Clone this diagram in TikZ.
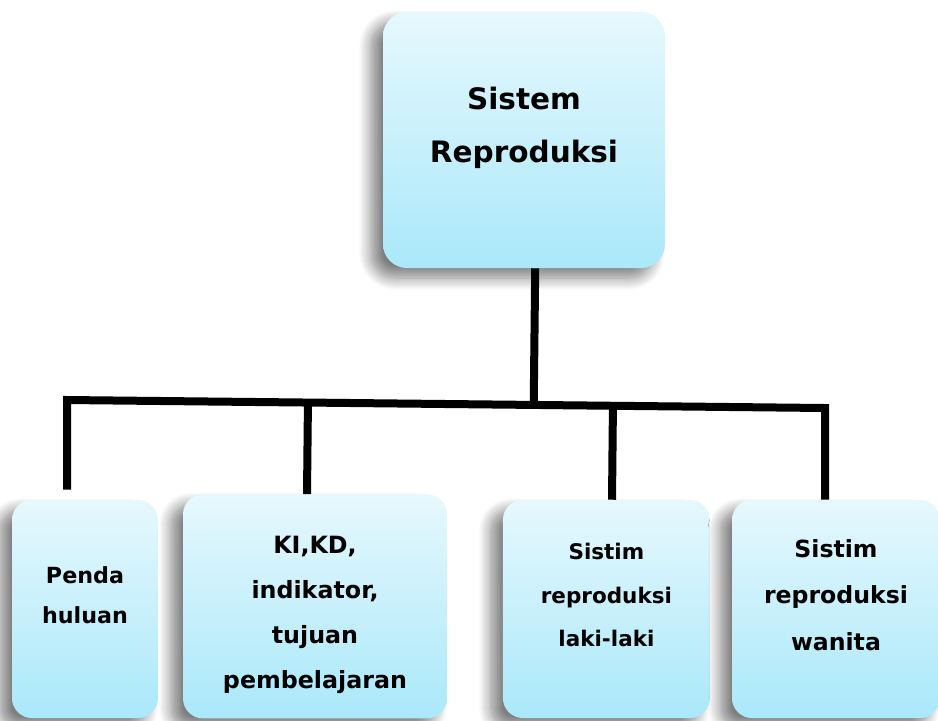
\documentclass[tikz,border=0pt]{standalone}
\usepackage{fontspec}
\setmainfont{DejaVu Sans}
\usepackage{tikz}
\usetikzlibrary{calc,shadows.blur}

\definecolor{boxtop}{HTML}{E6F8FD}
\definecolor{boxbot}{HTML}{AAE8FA}

\begin{document}
\begin{tikzpicture}[
  every node/.style={align=center,inner sep=0pt},
  box/.style={rounded corners=0.5cm,top color=boxtop,bottom color=boxbot,
    blur shadow={shadow xshift=-0.3cm,shadow yshift=-0.25cm,shadow blur radius=0.3cm,shadow blur steps=12,shadow opacity=50}},
  txt/.style={font=\bfseries},
  bar/.style={line width=0.2cm,black}
]
\useasboundingbox (0,0) rectangle (23.45,-18);

% boxes
\node[box,minimum width=7.05cm,minimum height=6.4cm,rounded corners=0.6cm,
  label={[txt,yshift=0.3cm,font=\fontsize{21}{38}\selectfont\bfseries]center:Sistem\\Reproduksi}]
  (sistem) at (13.1,-3.5) {};
\node[box,minimum width=3.65cm,minimum height=5.45cm,
  label={[txt,yshift=0.35cm,font=\fontsize{15.8}{28.5}\selectfont\bfseries]center:Penda\\huluan}]
  (penda) at (2.125,-15.225) {};
\node[box,minimum width=6.6cm,minimum height=5.6cm,
  label={[txt,yshift=-0.22cm,font=\fontsize{16.9}{32}\selectfont\bfseries]center:KI,KD,\\indikator,\\tujuan\\pembelajaran}]
  (ki) at (7.875,-15.16) {};
\node[box,minimum width=5.175cm,minimum height=5.45cm,
  label={[txt,yshift=0.35cm,font=\fontsize{15.3}{31}\selectfont\bfseries]center:Sistim\\reproduksi\\laki-laki}]
  (laki) at (15.16,-15.225) {};
\node[box,minimum width=5.2cm,minimum height=5.45cm,
  label={[txt,yshift=0.35cm,font=\fontsize{16.8}{33}\selectfont\bfseries]center:Sistim\\reproduksi\\wanita}]
  (wanita) at (20.9,-15.225) {};

% bus
\coordinate (bl) at (1.675,-10.0);
\coordinate (br) at (20.625,-10.2);

\draw[bar] ([xshift=0.28cm]sistem.south) -- ($(bl)!([xshift=0.28cm]sistem.south)!(br)$);
\draw[bar,shorten <=0.25cm] (bl |- penda.north) -- (bl) -- (br) -- (br |- wanita.north);
\draw[bar] ([xshift=-0.2cm]ki.north) -- ($(bl)!([xshift=-0.2cm]ki.north)!(br)$);
\draw[bar] ([xshift=0.14cm]laki.north) -- ($(bl)!([xshift=0.14cm]laki.north)!(br)$);
\end{tikzpicture}
\end{document}
